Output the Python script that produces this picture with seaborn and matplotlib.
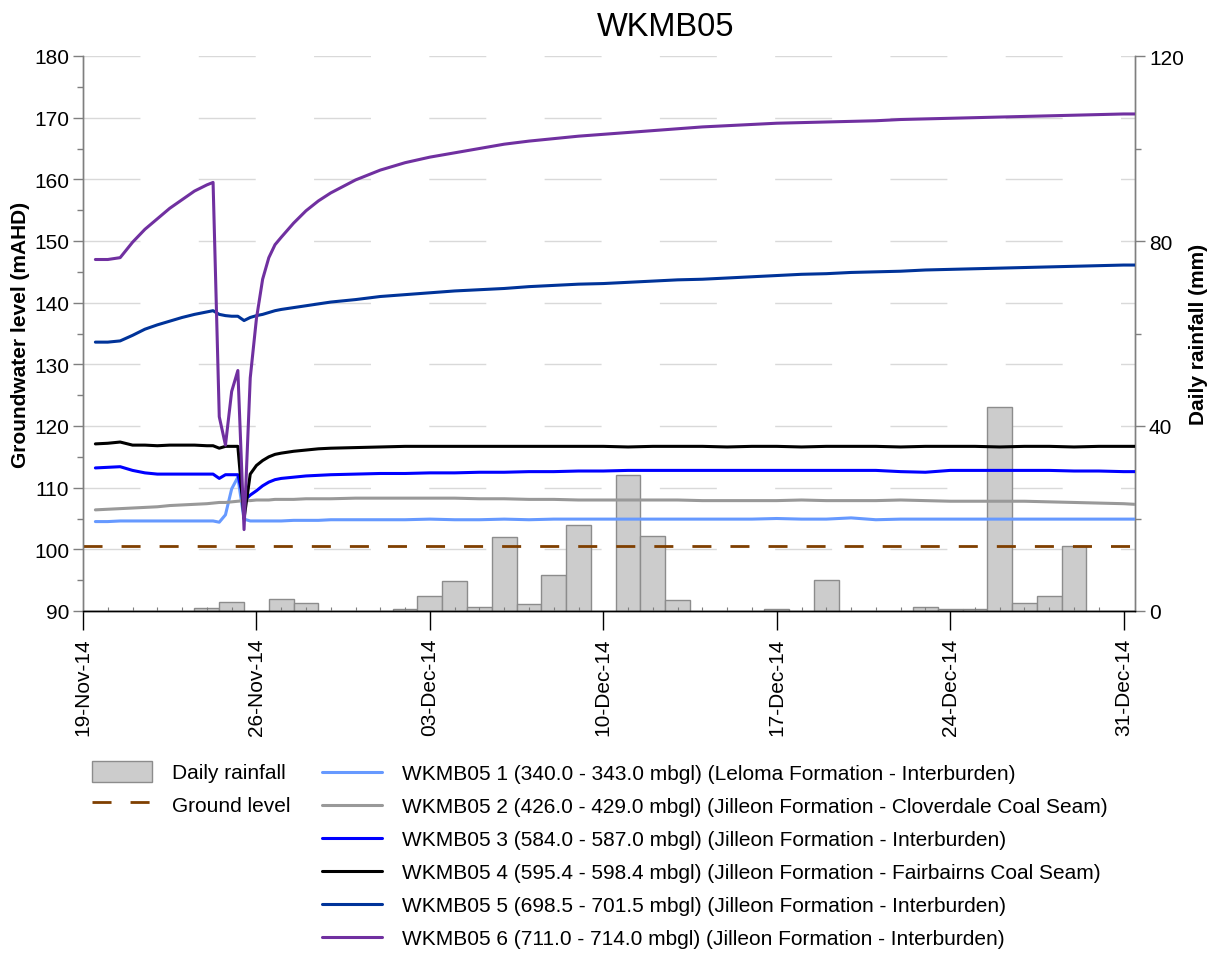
import numpy as np
import pandas as pd
import matplotlib
matplotlib.use("Agg")
import matplotlib.pyplot as plt
import matplotlib.dates as mdates
from matplotlib.ticker import MultipleLocator, FixedLocator
from matplotlib.lines import Line2D
from matplotlib.patches import Patch
import seaborn as sns

# ---------------------------------------------------------------- data
start = pd.Timestamp("2014-11-19")

# daily rainfall (mm), one value per day from 19-Nov-14 to 31-Dec-14
rain_mm = [0, 0, 0, 0, 0, 0.6, 2.0, 0, 2.7, 1.8,
           0, 0, 0, 0.5, 3.2, 6.5, 0.8, 15.9, 1.5, 7.7,
           18.6, 0, 29.3, 16.2, 2.3, 0, 0, 0, 0.4, 0,
           6.6, 0, 0, 0, 0.9, 0.5, 0.5, 44.2, 1.8, 3.3,
           14.0, 0, 0]

ground_level = 100.6

# observation times (days after 19-Nov-14 00:00)
obs_day = [0.5, 1.0, 1.5, 2.0, 2.5, 3.0, 3.5, 4.0, 4.5, 5.0,
           5.25, 5.5, 5.75, 6.0, 6.25, 6.5, 6.75, 7.0, 7.25, 7.5,
           7.75, 8.0, 8.5, 9.0, 9.5, 10, 11, 12, 13, 14,
           15, 16, 17, 18, 19, 20, 21, 22, 23, 24,
           25, 26, 27, 28, 29, 30, 31, 32, 33, 34,
           35, 36, 37, 38, 39, 40, 41, 42, 42.45]

wkmb05_1 = [104.5, 104.5, 104.6, 104.6, 104.6, 104.6, 104.6, 104.6, 104.6, 104.6,
            104.6, 104.4, 105.6, 109.8, 111.7, 104.9, 104.6, 104.6, 104.6, 104.6,
            104.6, 104.6, 104.7, 104.7, 104.7, 104.8, 104.8, 104.8, 104.8, 104.9,
            104.8, 104.8, 104.9, 104.8, 104.9, 104.9, 104.9, 104.9, 104.9, 104.9,
            104.9, 104.9, 104.9, 105.0, 104.9, 104.9, 105.1, 104.8, 104.9, 104.9,
            104.9, 104.9, 104.9, 104.9, 104.9, 104.9, 104.9, 104.9, 104.9]

wkmb05_2 = [106.4, 106.5, 106.6, 106.7, 106.8, 106.9, 107.1, 107.2, 107.3, 107.4,
            107.5, 107.6, 107.6, 107.7, 107.8, 107.9, 107.9, 108.0, 108.0, 108.0,
            108.1, 108.1, 108.1, 108.2, 108.2, 108.2, 108.3, 108.3, 108.3, 108.3,
            108.3, 108.2, 108.2, 108.1, 108.1, 108.0, 108.0, 108.0, 108.0, 108.0,
            107.9, 107.9, 107.9, 107.9, 108.0, 107.9, 107.9, 107.9, 108.0, 107.9,
            107.8, 107.8, 107.8, 107.8, 107.7, 107.6, 107.5, 107.4, 107.3]

wkmb05_3 = [113.2, 113.3, 113.4, 112.8, 112.4, 112.2, 112.2, 112.2, 112.2, 112.2,
            112.2, 111.5, 112.1, 112.1, 112.1, 107.9, 108.8, 109.5, 110.3, 110.9,
            111.3, 111.5, 111.7, 111.9, 112.0, 112.1, 112.2, 112.3, 112.3, 112.4,
            112.4, 112.5, 112.5, 112.6, 112.6, 112.7, 112.7, 112.8, 112.8, 112.8,
            112.8, 112.8, 112.8, 112.8, 112.8, 112.8, 112.8, 112.8, 112.6, 112.5,
            112.8, 112.8, 112.8, 112.8, 112.8, 112.7, 112.7, 112.6, 112.6]

wkmb05_4 = [117.1, 117.2, 117.4, 116.9, 116.9, 116.8, 116.9, 116.9, 116.9, 116.8,
            116.8, 116.4, 116.7, 116.7, 116.7, 105.0, 112.2, 113.6, 114.4, 115.0,
            115.4, 115.6, 115.9, 116.1, 116.3, 116.4, 116.5, 116.6, 116.7, 116.7,
            116.7, 116.7, 116.7, 116.7, 116.7, 116.7, 116.7, 116.6, 116.7, 116.7,
            116.7, 116.6, 116.7, 116.7, 116.6, 116.7, 116.7, 116.7, 116.6, 116.7,
            116.7, 116.7, 116.6, 116.7, 116.7, 116.6, 116.7, 116.7, 116.7]

wkmb05_5 = [133.6, 133.6, 133.8, 134.7, 135.7, 136.4, 137.0, 137.6, 138.1, 138.5,
            138.7, 138.1, 137.9, 137.8, 137.8, 137.1, 137.6, 137.9, 138.1, 138.4,
            138.7, 138.9, 139.2, 139.5, 139.8, 140.1, 140.5, 141.0, 141.3, 141.6,
            141.9, 142.1, 142.3, 142.6, 142.8, 143.0, 143.1, 143.3, 143.5, 143.7,
            143.8, 144.0, 144.2, 144.4, 144.6, 144.7, 144.9, 145.0, 145.1, 145.3,
            145.4, 145.5, 145.6, 145.7, 145.8, 145.9, 146.0, 146.1, 146.1]

wkmb05_6 = [147.0, 147.0, 147.3, 149.8, 151.9, 153.6, 155.3, 156.7, 158.1, 159.1,
            159.5, 121.5, 116.9, 125.6, 129.0, 103.2, 127.8, 137.4, 143.8, 147.3,
            149.4, 150.6, 152.9, 154.9, 156.5, 157.8, 159.9, 161.5, 162.7, 163.6,
            164.3, 165.0, 165.7, 166.2, 166.6, 167.0, 167.3, 167.6, 167.9, 168.2,
            168.5, 168.7, 168.9, 169.1, 169.2, 169.3, 169.4, 169.5, 169.7, 169.8,
            169.9, 170.0, 170.1, 170.2, 170.3, 170.4, 170.5, 170.6, 170.6]

well_labels = [
    "WKMB05 1 (340.0 - 343.0 mbgl) (Leloma Formation - Interburden)",
    "WKMB05 2 (426.0 - 429.0 mbgl) (Jilleon Formation - Cloverdale Coal Seam)",
    "WKMB05 3 (584.0 - 587.0 mbgl) (Jilleon Formation - Interburden)",
    "WKMB05 4 (595.4 - 598.4 mbgl) (Jilleon Formation - Fairbairns Coal Seam)",
    "WKMB05 5 (698.5 - 701.5 mbgl) (Jilleon Formation - Interburden)",
    "WKMB05 6 (711.0 - 714.0 mbgl) (Jilleon Formation - Interburden)",
]
well_colors = ["#6699ff", "#999999", "#0000ff", "#000000", "#003399", "#7030a0"]

# ---------------------------------------------------------------- frames
rain_dates = pd.date_range(start, periods=len(rain_mm), freq="D")
times = start + pd.to_timedelta(obs_day, unit="D")
levels = [wkmb05_1, wkmb05_2, wkmb05_3, wkmb05_4, wkmb05_5, wkmb05_6]
gw = pd.concat(
    [pd.DataFrame({"time": times, "level": vals, "well": lab})
     for lab, vals in zip(well_labels, levels)],
    ignore_index=True,
)

# ---------------------------------------------------------------- style
sns.set_theme(style="white")
plt.rcParams["font.family"] = ["Liberation Sans", "DejaVu Sans"]
plt.rcParams["lines.scale_dashes"] = False
for key in ("text.color", "axes.labelcolor", "xtick.color", "ytick.color"):
    plt.rcParams[key] = "black"

FS = 15
W, H = 1211, 954
fig = plt.figure(figsize=(W / 100, H / 100), dpi=100)
L, R, T, B = 83, 1135, 57, 612
ax = fig.add_axes([L / W, 1 - B / H, (R - L) / W, (B - T) / H])
ax2 = ax.twinx()
ax.set_zorder(ax2.get_zorder() + 1)
ax.patch.set_visible(False)

gw_lo, gw_hi = 90, 180
rain_hi = 120
x0 = start
x1 = start + pd.Timedelta(days=42.46)

# horizontal grid at every 10 m of the groundwater scale, kept behind the bars
for v in np.arange(100, 181, 10):
    ax2.axhline((v - gw_lo) / (gw_hi - gw_lo) * rain_hi, color="#d9d9d9",
                lw=1.0, dashes=(41, 42), zorder=0)

# rainfall columns
ax2.bar(rain_dates, rain_mm, width=1.0, color="#cccccc",
        edgecolor="#8c8c8c", linewidth=1.0, zorder=2)

# groundwater levels
ax.axhline(ground_level, color="#7f3f00", lw=2.0, dashes=(13.7, 13.7), zorder=2)
sns.lineplot(data=gw, x="time", y="level", hue="well", hue_order=well_labels,
             palette=well_colors, linewidth=2.2, legend=False, ax=ax,
             estimator=None, sort=False, zorder=3)

# ---------------------------------------------------------------- axes
ax.set_xlim(x0, x1)
ax.set_ylim(gw_lo, gw_hi)
ax2.set_ylim(0, rain_hi)

ax.yaxis.set_major_locator(MultipleLocator(10))
ax.yaxis.set_minor_locator(MultipleLocator(5))
ax2.yaxis.set_major_locator(MultipleLocator(40))
ax2.yaxis.set_minor_locator(MultipleLocator(20))

ax.xaxis.set_major_locator(FixedLocator(mdates.date2num(
    pd.date_range(start, "2014-12-31", freq="7D"))))
ax.xaxis.set_minor_locator(FixedLocator(mdates.date2num(
    pd.date_range(start, "2014-12-31", freq="D"))))
ax.xaxis.set_major_formatter(mdates.DateFormatter("%d-%b-%y"))

spine_grey = "#7f7f7f"
for a in (ax, ax2):
    a.spines["top"].set_visible(False)
    a.spines["left"].set_color(spine_grey)
    a.spines["right"].set_color(spine_grey)
    a.spines["bottom"].set_color("black")
    for s in a.spines.values():
        s.set_linewidth(1.0)

ax.tick_params(axis="y", which="major", direction="out", length=7, width=1,
               color=spine_grey, labelsize=FS, pad=3, left=True)
ax.tick_params(axis="y", which="minor", direction="out", length=4, width=1,
               color=spine_grey, left=True)
ax2.tick_params(axis="y", which="major", direction="out", length=7, width=1,
                color=spine_grey, labelsize=FS, pad=3, right=True)
ax2.tick_params(axis="y", which="minor", direction="out", length=4, width=1,
                color=spine_grey, right=True)
ax.tick_params(axis="x", which="major", direction="out", length=14, width=1,
               color="black", labelsize=FS, pad=5, rotation=90, bottom=True)
ax.tick_params(axis="x", which="minor", direction="in", length=3, width=0.8,
               color=spine_grey, bottom=True)

ax.set_xlabel("")
ax.set_ylabel("Groundwater level (mAHD)", fontsize=FS, fontweight="bold",
              labelpad=3)
ax2.set_ylabel("Daily rainfall (mm)", fontsize=FS, fontweight="bold",
               labelpad=4)

fig.text(666 / W, 1 - 27 / H, "WKMB05", ha="center", va="center", fontsize=23.5)

# ---------------------------------------------------------------- legends
left_handles = [
    Patch(facecolor="#cccccc", edgecolor="#8c8c8c", linewidth=1.0),
    Line2D([], [], color="#7f3f00", lw=2.0, dashes=(13.7, 13.7)),
]
fig.legend(left_handles, ["Daily rainfall", "Ground level"], loc="upper left",
           bbox_to_anchor=(92 / W, 1 - 762 / H), frameon=False, fontsize=FS,
           borderpad=0, borderaxespad=0, handlelength=2.9, handleheight=1.15,
           handletextpad=0.95, labelspacing=0.53)

right_handles = [Line2D([], [], color=c, lw=2.2) for c in well_colors]
fig.legend(right_handles, well_labels, loc="upper left",
           bbox_to_anchor=(322 / W, 1 - 765 / H), frameon=False, fontsize=FS,
           borderpad=0, borderaxespad=0, handlelength=2.9,
           handletextpad=0.92, labelspacing=0.67)

fig.savefig("out.png", dpi=100)
